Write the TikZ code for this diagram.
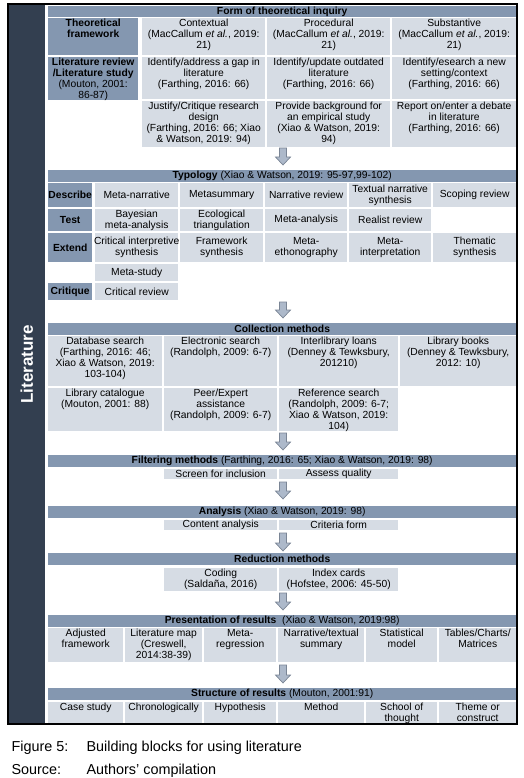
\documentclass[tikz,border=0pt]{standalone}
\usepackage{fontspec}
\setmainfont{Liberation Sans}
\definecolor{bandc}{HTML}{8497B0}
\definecolor{cellc}{HTML}{D6DCE4}
\definecolor{darkc}{HTML}{333F50}
\definecolor{arrowfill}{HTML}{ADB9CA}
\definecolor{arrowedge}{HTML}{7A8595}
\newcommand{\cellfont}{\fontsize{10.3}{11}\selectfont}
\newcommand{\mkbox}[8]{%
  \pgfmathsetmacro\mkcw{#5-#3}%
  \pgfmathsetmacro\mkch{#6-#4}%
  \node[#1, anchor=north west, inner sep=0pt, minimum width=\mkcw pt, minimum height=\mkch pt] (#2) at (#3,#4)
    {\parbox[c][\mkch pt][#7]{\mkcw pt}{\centering #8}};%
}
\newcommand{\tcell}[7]{\mkbox{#1}{#2}{#3}{#4}{#5}{#6}{t}{\rule{0pt}{8.7pt}#7}}
\newcommand{\ccell}[7]{\mkbox{#1}{#2}{#3}{#4}{#5}{#6}{c}{#7}}
\newcommand{\darrow}[3]{%
  \draw[arrowst] (#1-3.5,#2) -- (#1+3.5,#2) -- (#1+3.5,#3-8) -- (#1+7.5,#3-8) -- (#1,#3)
    -- (#1-7.5,#3-8) -- (#1-3.5,#3-8) -- cycle;}
\begin{document}
\begin{tikzpicture}[x=1pt,y=-1pt,
  cellst/.style={fill=cellc, font=\cellfont},
  labelst/.style={fill=bandc, font=\cellfont\bfseries},
  bandst/.style={fill=bandc, font=\cellfont\bfseries},
  arrowst/.style={fill=arrowfill, draw=arrowedge, line width=0.7pt, line join=miter},
  capst/.style={anchor=base west, font=\fontsize{14.4}{16}\selectfont}]
\useasboundingbox (0,0) rectangle (523,778);
% left column
\node[fill=darkc, anchor=north west, inner sep=0pt, minimum width=37pt, minimum height=720pt] (col) at (8,4) {};
\node[rotate=90, text=white, font=\fontsize{17}{19}\selectfont\bfseries] (lit) at (col.center) {Literature};

% ---- Form of theoretical inquiry
\ccell{bandst}{bform}{48}{6}{516}{16.5}{Form of theoretical inquiry}
\tcell{labelst}{tf}{48}{18}{138}{55}{Theoretical\\framework}
\tcell{cellst}{ctx}{142}{18}{265}{55}{Contextual\\(MacCallum \textit{et al.}, 2019:\\21)}
\tcell{cellst}{proc}{267}{18}{390}{55}{Procedural\\(MacCallum \textit{et al.}, 2019:\\21)}
\tcell{cellst}{subs}{392}{18}{516}{55}{Substantive\\(MacCallum \textit{et al.}, 2019:\\21)}
\tcell{labelst}{lr}{48}{57}{138}{100}{Literature review\\/Literature study\\\mdseries(Mouton, 2001:\\86-87)}
\tcell{cellst}{gap}{142}{57}{265}{99}{Identify/address a gap in\\literature\\(Farthing, 2016: 66)}
\tcell{cellst}{upd}{267}{57}{390}{99}{Identify/update outdated\\literature\\(Farthing, 2016: 66)}
\tcell{cellst}{new}{392}{57}{516}{99}{Identify/esearch a new\\setting/context\\(Farthing, 2016: 66)}
\tcell{cellst}{just}{142}{101}{265}{147}{Justify/Critique research\\design\\(Farthing, 2016: 66; Xiao\\\& Watson, 2019: 94)}
\tcell{cellst}{bg}{267}{101}{390}{147}{Provide background for\\an empirical study\\(Xiao \& Watson, 2019:\\94)}
\tcell{cellst}{deb}{392}{101}{516}{147}{Report on/enter a debate\\in literature\\(Farthing, 2016: 66)}
\darrow{283}{148}{165}

% ---- Typology
\ccell{bandst}{btyp}{48}{170}{516}{181.5}{Typology \mdseries(Xiao \& Watson, 2019: 95-97,99-102)}
\ccell{labelst}{ldes}{48}{183}{92}{207}{Describe}
\ccell{cellst}{d1}{95}{183}{178}{207}{Meta-narrative}
\ccell{cellst}{d2}{180}{183}{263}{207}{Metasummary}
\ccell{cellst}{d3}{265}{183}{347}{207}{Narrative review}
\ccell{cellst}{d4}{349}{183}{431}{207}{Textual narrative\\synthesis}
\ccell{cellst}{d5}{433}{183}{516}{207}{Scoping review}
\ccell{labelst}{ltest}{48}{209}{92}{231}{Test}
\ccell{cellst}{t1}{95}{209}{178}{231}{Bayesian\\meta-analysis}
\ccell{cellst}{t2}{180}{209}{263}{231}{Ecological\\triangulation}
\ccell{cellst}{t3}{265}{209}{347}{231}{Meta-analysis}
\ccell{cellst}{t4}{349}{209}{431}{231}{Realist review}
\ccell{labelst}{lext}{48}{233}{92}{262}{Extend}
\ccell{cellst}{e1}{95}{233}{178}{262}{\makebox[\linewidth][c]{Critical interpretive}\\synthesis}
\ccell{cellst}{e2}{180}{233}{263}{262}{Framework\\synthesis}
\ccell{cellst}{e3}{265}{233}{347}{262}{Meta-\\ethonography}
\ccell{cellst}{e4}{349}{233}{431}{262}{Meta-\\interpretation}
\ccell{cellst}{e5}{433}{233}{516}{262}{Thematic\\synthesis}
\ccell{cellst}{ms}{95}{264}{178}{281}{Meta-study}
\ccell{labelst}{lcrit}{48}{283}{92}{300}{Critique}
\ccell{cellst}{cr}{95}{283}{178}{300}{Critical review}
\darrow{283}{302}{318}

% ---- Collection methods
\ccell{bandst}{bcol}{48}{323}{516}{334.5}{Collection methods}
\tcell{cellst}{c1}{48}{336}{162}{386}{Database search\\(Farthing, 2016: 46;\\Xiao \& Watson, 2019:\\103-104)}
\tcell{cellst}{c2}{164}{336}{277}{386}{Electronic search\\(Randolph, 2009: 6-7)}
\tcell{cellst}{c3}{279}{336}{398}{386}{Interlibrary loans\\(Denney \& Tewksbury,\\201210)}
\tcell{cellst}{c4}{400}{336}{516}{386}{Library books\\(Denney \& Tewksbury,\\2012: 10)}
\tcell{cellst}{c5}{48}{388}{162}{431}{Library catalogue\\(Mouton, 2001: 88)}
\tcell{cellst}{c6}{164}{388}{277}{431}{Peer/Expert\\assistance\\(Randolph, 2009: 6-7)}
\tcell{cellst}{c7}{279}{388}{398}{431}{Reference search\\(Randolph, 2009: 6-7;\\Xiao \& Watson, 2019:\\104)}
\darrow{283}{433}{450}

% ---- Filtering methods
\ccell{bandst}{bfil}{48}{455}{516}{467}{Filtering methods \mdseries(Farthing, 2016: 65; Xiao \& Watson, 2019: 98)}
\ccell{cellst}{f1}{164}{468.5}{277}{479}{Screen for inclusion}
\ccell{cellst}{f2}{279}{468.5}{398}{479}{Assess quality}
\darrow{283}{482}{499}

% ---- Analysis
\ccell{bandst}{bana}{48}{506}{516}{517.5}{Analysis \mdseries(Xiao \& Watson, 2019: 98)}
\ccell{cellst}{a1}{164}{519.5}{277}{530}{Content analysis}
\ccell{cellst}{a2}{279}{519.5}{398}{530}{Criteria form}
\darrow{283}{533}{551}

% ---- Reduction methods
\ccell{bandst}{bred}{48}{553}{516}{565}{Reduction methods}
\ccell{cellst}{r1}{164}{568}{277}{591}{Coding\\(Saldaña, 2016)}
\ccell{cellst}{r2}{279}{568}{398}{591}{Index cards\\(Hofstee, 2006: 45-50)}
\darrow{283}{593}{610}

% ---- Presentation of results
\ccell{bandst}{bpre}{48}{615}{516}{626.5}{Presentation of results \mdseries\ (Xiao \& Watson, 2019:98)}
\tcell{cellst}{p1}{48}{628}{123}{662}{Adjusted\\framework}
\tcell{cellst}{p2}{125}{628}{202}{662}{Literature map\\(Creswell,\\2014:38-39)}
\tcell{cellst}{p3}{204}{628}{276}{662}{Meta-\\regression}
\tcell{cellst}{p4}{278}{628}{364}{662}{Narrative/textual\\summary}
\tcell{cellst}{p5}{366}{628}{437}{662}{Statistical\\model}
\tcell{cellst}{p6}{439}{628}{516}{662}{Tables/Charts/\\Matrices}
\darrow{283}{665}{683}

% ---- Structure of results
\ccell{bandst}{bstr}{48}{688}{516}{700}{Structure of results \mdseries(Mouton, 2001:91)}
\tcell{cellst}{s1}{48}{702}{123}{723.5}{Case study}
\tcell{cellst}{s2}{125}{702}{202}{723.5}{Chronologically}
\tcell{cellst}{s3}{204}{702}{276}{723.5}{Hypothesis}
\tcell{cellst}{s4}{278}{702}{364}{723.5}{Method}
\tcell{cellst}{s5}{366}{702}{437}{723.5}{School of\\thought}
\tcell{cellst}{s6}{439}{702}{516}{723.5}{Theme or\\construct}

% frame
\draw[line width=1.5pt] (8,4) rectangle (517,724);

% caption
\node[capst] (fig) at (8,751) {Figure 5:};
\node[capst] (figt) at (83,751) {Building blocks for using literature};
\node[capst] (src) at (8,774) {Source:};
\node[capst] (srct) at (83,774) {Authors' compilation};
\end{tikzpicture}
\end{document}
